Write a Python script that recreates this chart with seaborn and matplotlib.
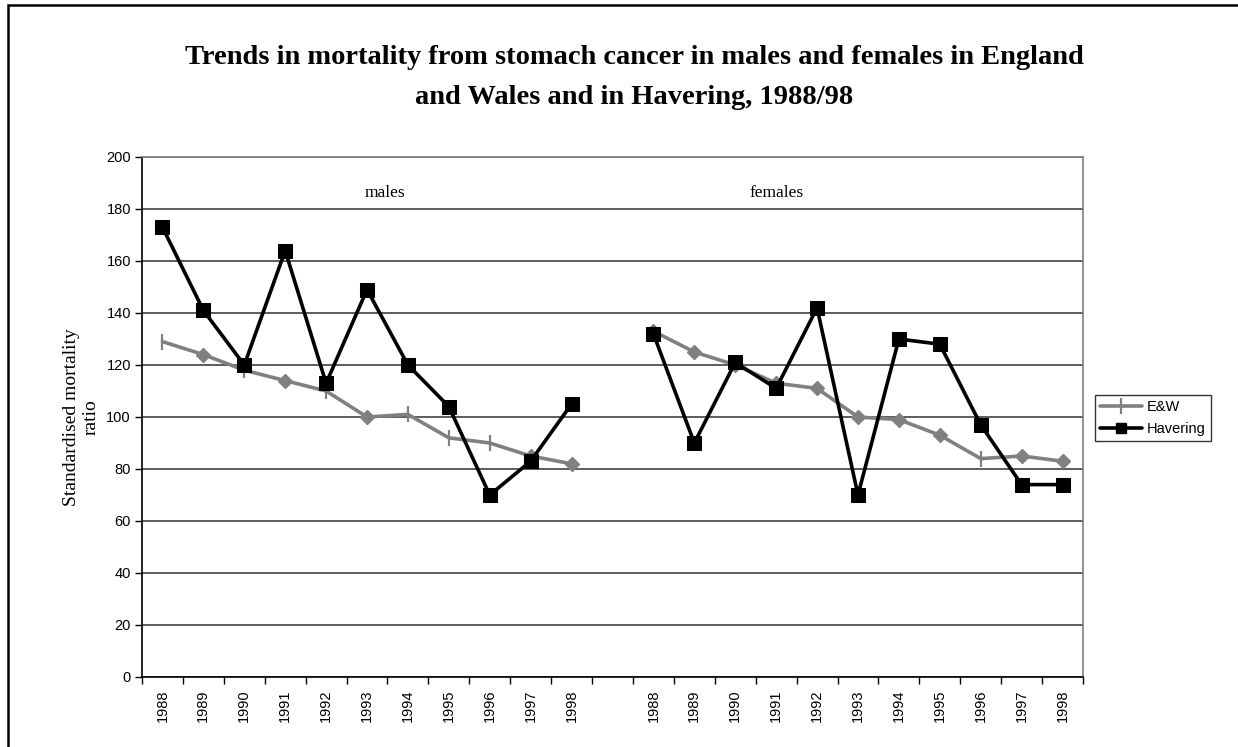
import matplotlib
matplotlib.use("Agg")
import matplotlib.pyplot as plt
import seaborn as sns
import numpy as np
import pandas as pd
from matplotlib.patches import Rectangle
from matplotlib.lines import Line2D

# ── data ─────────────────────────────────────────────────────────────
years = [1988, 1989, 1990, 1991, 1992, 1993, 1994, 1995, 1996, 1997, 1998]
panels = ["males", "females"]
ew_males = [129, 124, 118, 114, 110, 100, 101, 92, 90, 85, 82]
hav_males = [173, 141, 120, 164, 113, 149, 120, 104, 70, 83, 105]
ew_females = [133, 125, 120, 113, 111, 100, 99, 93, 84, 85, 83]
hav_females = [132, 90, 121, 111, 142, 70, 130, 128, 97, 74, 74]

# marker shapes seen on the E&W points (mixed in the original)
ew_male_marks = ["|", "D", "|", "D", "|", "D", "|", "|", "|", "D", "D"]
ew_female_marks = ["D", "D", "D", "D", "D", "D", "D", "D", "|", "D", "D"]

title_lines = [
    "Trends in mortality from stomach cancer in males and females in England",
    "and Wales and in Havering, 1988/98",
]

rows = []
for p_idx, (panel, ew, hav) in enumerate(
    [("males", ew_males, hav_males), ("females", ew_females, hav_females)]
):
    for i, yr in enumerate(years):
        pos = i + p_idx * (len(years) + 1)
        rows.append({"panel": panel, "pos": pos, "year": yr, "series": "E&W", "smr": ew[i]})
        rows.append({"panel": panel, "pos": pos, "year": yr, "series": "Havering", "smr": hav[i]})
df = pd.DataFrame(rows)

sns.set_theme(style="white")
plt.rcParams["font.family"] = ["Liberation Sans", "DejaVu Sans"]
plt.rcParams.update({"text.color": "black", "axes.labelcolor": "black",
                     "xtick.color": "black", "ytick.color": "black"})

fig = plt.figure(figsize=(12.38, 7.47), dpi=100)
ax = fig.add_axes([142 / 1238, 1 - 677 / 747, (1083 - 142) / 1238, (677 - 157) / 747])

GREY = "#808080"
for panel, marks in [("males", ew_male_marks), ("females", ew_female_marks)]:
    sub = df[(df["panel"] == panel) & (df["series"] == "E&W")]
    sns.lineplot(data=sub, x="pos", y="smr", color=GREY, lw=2.6, ax=ax,
                 estimator=None, sort=False, zorder=3, legend=False)
    for (_, r), m in zip(sub.iterrows(), marks):
        if m == "D":
            ax.plot(r["pos"], r["smr"], marker="D", ms=7.5, color=GREY, zorder=3.5)
        else:
            ax.plot(r["pos"], r["smr"], marker="|", ms=11, mew=1.6, color=GREY, zorder=3.5)

for panel in panels:
    sub = df[(df["panel"] == panel) & (df["series"] == "Havering")]
    sns.lineplot(data=sub, x="pos", y="smr", color="black", lw=2.6, ax=ax,
                 estimator=None, sort=False, marker="s", markersize=9.5,
                 markeredgecolor="black", zorder=4, legend=False)

n = len(years)
ax.set_xlim(-0.5, 2 * n + 0.5)
ax.set_ylim(0, 200)
ax.set_yticks(np.arange(0, 201, 20))
centers = list(range(n)) + [i + n + 1 for i in range(n)]
ax.set_xticks(centers, labels=[str(y) for y in years] * 2, rotation=90)
ax.set_xticks(np.arange(-0.5, 2 * n + 1, 1), minor=True)
ax.tick_params(axis="x", which="major", length=0, pad=9, labelsize=10.5, colors="black")
ax.tick_params(axis="x", which="minor", bottom=True, length=5, width=1, color="black")
ax.tick_params(axis="y", left=True, length=5, width=1, color="black", labelsize=10.5, pad=3)
ax.set_xlabel("")
ax.set_ylabel("Standardised mortality\nratio", family="Liberation Serif", fontsize=14,
              labelpad=5)

ax.yaxis.grid(True, color="#303030", lw=1.1)
ax.xaxis.grid(False)
ax.set_axisbelow(True)
for side in ["left", "bottom"]:
    ax.spines[side].set_color("black")
    ax.spines[side].set_linewidth(1.2)
for side in ["top", "right"]:
    ax.spines[side].set_color(GREY)
    ax.spines[side].set_linewidth(1.2)

ax.text(5.44, 186, "males", family="Liberation Serif", fontsize=12.5, ha="center", va="center")
ax.text(15.0, 186, "females", family="Liberation Serif", fontsize=12.5, ha="center", va="center")

handles = [
    Line2D([], [], color=GREY, lw=2.6, marker="|", ms=11, mew=1.6),
    Line2D([], [], color="black", lw=2.6, marker="s", ms=7),
]
leg = fig.legend(handles, ["E&W", "Havering"], loc="center left",
                 bbox_to_anchor=(1095 / 1238, 1 - 418 / 747), frameon=True,
                 fontsize=10.5, handlelength=2.9, handletextpad=0.3,
                 borderpad=0.35, labelspacing=0.55, fancybox=False, borderaxespad=0)
leg.get_frame().set_edgecolor("black")
leg.get_frame().set_linewidth(1)

for line, ypix in zip(title_lines, [57, 97]):
    fig.text(634 / 1238, 1 - ypix / 747, line, family="Liberation Serif",
             fontweight="bold", fontsize=20.5, ha="center", va="center")

fig.patches.append(Rectangle((8 / 1238, -0.02), 1.1, 1 - 5 / 747 + 0.02,
                             transform=fig.transFigure, fill=False,
                             edgecolor="black", lw=1.8))

fig.savefig("out.png", dpi=100)
